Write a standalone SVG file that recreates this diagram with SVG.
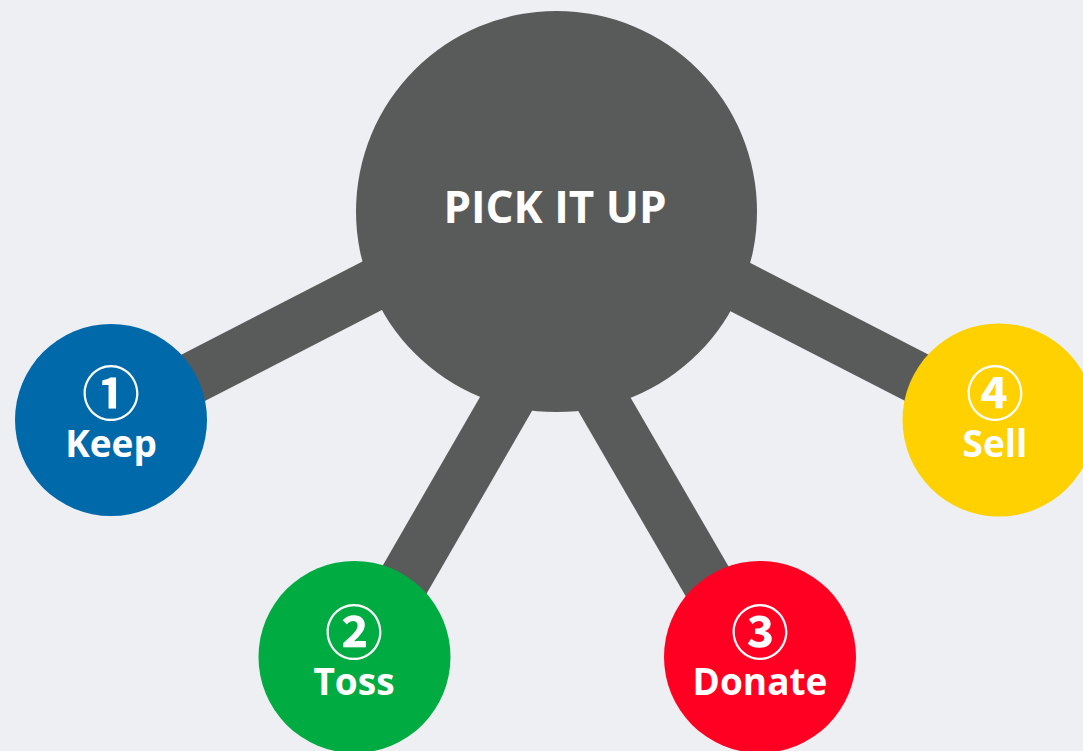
<svg xmlns="http://www.w3.org/2000/svg" width="1083" height="751" viewBox="0 0 1083 751">
  <style>
    .bar { stroke: #595B5A; stroke-width: 52; stroke-linecap: butt; fill: none; }
    .label { font-family: "Open Sans", "Liberation Sans", sans-serif; font-weight: bold; fill: #FFFFFF; text-anchor: middle; }
    .num { font-family: "Noto Sans CJK JP", "DejaVu Sans", sans-serif; font-weight: bold; font-size: 58px; }
    .name { font-size: 37px; }
  </style>
  <rect x="0" y="0" width="1083" height="751" fill="#EEEFF3"/>
  <g id="connectors">
    <line class="bar" x1="111" y1="420" x2="500" y2="220"/>
    <line class="bar" x1="999" y1="420" x2="610" y2="220"/>
    <line class="bar" x1="360" y1="657" x2="540" y2="345"/>
    <line class="bar" x1="751" y1="657" x2="570" y2="345"/>
  </g>
  <g id="center">
    <circle cx="556.5" cy="211.5" r="200.5" fill="#595B5A"/>
    <text class="label" x="555" y="223" font-size="44">PICK IT UP</text>
  </g>
  <g id="keep">
    <circle cx="111" cy="420" r="96" fill="#0069AA"/>
    <text class="label name"><tspan class="num" x="111" y="415">①</tspan><tspan x="111" y="457">Keep</tspan></text>
  </g>
  <g id="toss">
    <circle cx="354.5" cy="657" r="96" fill="#00AC41"/>
    <text class="label name"><tspan class="num" x="354" y="654">②</tspan><tspan x="354" y="695">Toss</tspan></text>
  </g>
  <g id="donate">
    <circle cx="760" cy="657" r="96" fill="#FF0022"/>
    <text class="label name"><tspan class="num" x="760" y="654">③</tspan><tspan x="760" y="695">Donate</tspan></text>
  </g>
  <g id="sell">
    <circle cx="999" cy="420" r="96.5" fill="#FFD100"/>
    <text class="label name"><tspan class="num" x="995" y="415">④</tspan><tspan x="995" y="457">Sell</tspan></text>
  </g>
</svg>
